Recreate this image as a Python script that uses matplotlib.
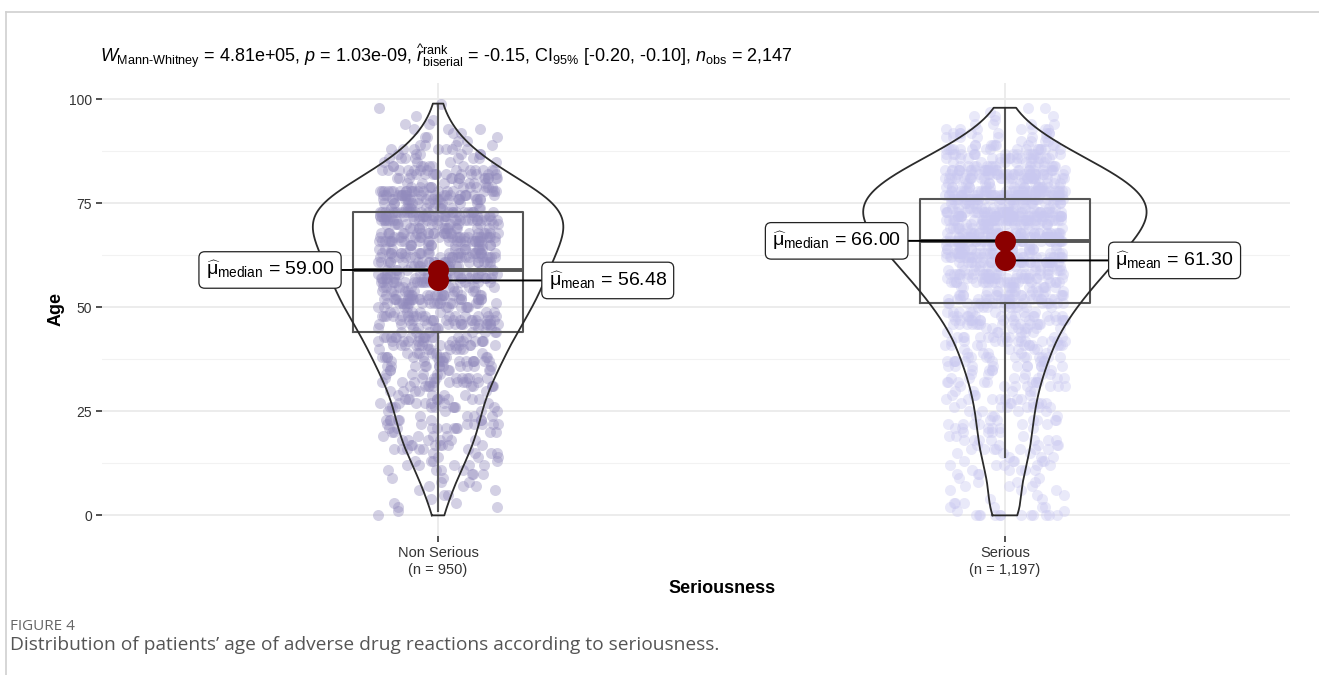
import numpy as np
import matplotlib
matplotlib.use("Agg")
import matplotlib.pyplot as plt
from matplotlib.lines import Line2D

plt.rcParams["font.family"] = ["Liberation Sans", "DejaVu Sans"]
plt.rcParams["mathtext.fontset"] = "custom"
plt.rcParams["mathtext.rm"] = "Liberation Sans"
plt.rcParams["mathtext.it"] = "Liberation Sans:italic"
plt.rcParams["mathtext.bf"] = "Liberation Sans:bold"

# ---- data -------------------------------------------------------------
groups = ["Non Serious", "Serious"]
tick_labels = ["Non Serious\n(n = 950)", "Serious\n(n = 1,197)"]
bin_starts = list(range(0, 100, 5))          # 5-year age bins
non_serious_counts = [7, 11, 19, 27, 31, 33, 40, 48, 55, 64,
                      75, 79, 87, 93, 101, 84, 52, 28, 12, 4]
serious_counts = [23, 13, 21, 25, 26, 29, 33, 41, 46, 59,
                  72, 90, 107, 124, 141, 136, 108, 66, 30, 7]
age_zero_counts = [1, 12]                     # part of the first bin
max_age = [99, 98]

box_q1 = [44, 51]
box_median = [59, 66]
box_q3 = [73, 76]
whisker_low = [1, 14]
whisker_high = [99, 98]

centre_median = [59.00, 66.00]
centre_mean = [56.48, 61.30]

subtitle = (r"$W_{\mathrm{Mann\text{-}Whitney}}$ = 4.81e+05, $p$ = 1.03e-09, "
            r"$\widehat{r}_{\mathrm{biserial}}^{\mathrm{rank}}$ = -0.15, "
            r"CI$_{95\%}$ [-0.20, -0.10], $n_{\mathrm{obs}}$ = 2,147")

point_colors = ["#928bbd", "#c9c8f0"]


def expand_ages(counts, zeros, top):
    parts = [np.zeros(zeros)]
    for start, c in zip(bin_starts, counts):
        lo = start
        if start == 0:
            c -= zeros
            lo = 1
        hi = min(start + 4, top)
        parts.append(np.round(np.linspace(lo, hi, c)))
    return np.concatenate(parts)


def kde_profile(vals, npts=512):
    n = len(vals)
    sd = vals.std(ddof=1)
    iqr = np.subtract(*np.percentile(vals, [75, 25]))
    bw = 0.9 * min(sd, iqr / 1.34) * n ** -0.2
    grid = np.linspace(vals.min(), vals.max(), npts)
    dens = np.exp(-0.5 * ((grid[:, None] - vals[None, :]) / bw) ** 2).sum(1)
    dens /= n * bw * np.sqrt(2 * np.pi)
    return grid, dens


ages = [expand_ages(non_serious_counts, age_zero_counts[0], max_age[0]),
        expand_ages(serious_counts, age_zero_counts[1], max_age[1])]

# ---- figure -----------------------------------------------------------
fig = plt.figure(figsize=(13.19, 6.75), dpi=100)
ax = fig.add_axes([0.0773, 0.206, 0.9007, 0.671])

ax.set_xlim(0.407, 2.503)
ax.set_ylim(-4.95, 103.95)

# grid
for y in [0, 25, 50, 75, 100]:
    ax.axhline(y, color="#ebebeb", lw=1.3, zorder=0)
for y in [12.5, 37.5, 62.5, 87.5]:
    ax.axhline(y, color="#f2f2f2", lw=0.8, zorder=0)
for x in [1, 2]:
    ax.axvline(x, color="#ebebeb", lw=1.3, zorder=0)

# jittered points (deterministic quadratic Weyl offsets)
jit_half = 0.106
for i, vals in enumerate(ages):
    n = len(vals)
    k = np.arange(n, dtype=float)
    frac = (k * k * 0.41421356237 + k * 0.7548776662 + 0.29 * i) % 1.0
    off = (frac - 0.5) * 2 * jit_half
    ax.scatter(i + 1 + off, vals, s=63, color=point_colors[i], alpha=0.4,
               linewidths=0, zorder=2)

# boxes
stats = []
for i in range(2):
    stats.append(dict(med=box_median[i], q1=box_q1[i], q3=box_q3[i],
                      whislo=whisker_low[i], whishi=whisker_high[i],
                      fliers=[]))
ax.bxp(stats, positions=[1, 2], widths=0.3, showcaps=False,
       showfliers=False, patch_artist=False,
       boxprops=dict(color="#555555", lw=1.5),
       whiskerprops=dict(color="#555555", lw=1.5),
       medianprops=dict(color="#555555", lw=2.8), manage_ticks=False,
       zorder=3)

# violins (area-scaled)
profiles = [kde_profile(v) for v in ages]
dmax = max(p[1].max() for p in profiles)
half_width = 0.25
for i, (grid, dens) in enumerate(profiles):
    w = dens / dmax * half_width
    xs = np.concatenate([i + 1 - w, (i + 1 + w)[::-1], [i + 1 - w[0]]])
    ys = np.concatenate([grid, grid[::-1], [grid[0]]])
    ax.plot(xs, ys, color="#2b2b2b", lw=1.3, zorder=4)

# centrality points and labels
box_style = dict(boxstyle="round,pad=0.35,rounding_size=0.3", fc="white",
                 ec="#222222", lw=0.9)
line_style = dict(arrowstyle="-", color="black", lw=1.4, shrinkA=0, shrinkB=0)
for i in range(2):
    x = i + 1
    ax.scatter([x, x], [centre_median[i], centre_mean[i]], s=230,
               color="#8b0000", zorder=6, linewidths=0)
    ax.annotate(r"$\widehat{\mathrm{\mu}}_{\mathrm{median}}$ = %.2f" % centre_median[i],
                xy=(x, centre_median[i]), xytext=(x - 0.183, centre_median[i]),
                ha="right", va="center", fontsize=14, bbox=box_style,
                arrowprops=line_style, zorder=5)
    ax.annotate(r"$\widehat{\mathrm{\mu}}_{\mathrm{mean}}$ = %.2f" % centre_mean[i],
                xy=(x, centre_mean[i]), xytext=(x + 0.195, centre_mean[i]),
                ha="left", va="center", fontsize=14, bbox=box_style,
                arrowprops=line_style, zorder=5)

# axes styling
for s in ax.spines.values():
    s.set_visible(False)
ax.set_yticks([0, 25, 50, 75, 100])
ax.set_xticks([1, 2])
ax.set_xticklabels(tick_labels)
ax.tick_params(axis="both", colors="#333333", labelsize=10.5, length=4,
               width=1.2, labelcolor="#333333")
ax.tick_params(axis="y", pad=3, labelsize=10)
ax.set_ylabel("Age", fontsize=13, fontweight="bold", labelpad=3)
ax.set_xlabel("Seriousness", fontsize=13, fontweight="bold")
ax.xaxis.set_label_coords(0.522, -0.098)

fig.text(0.0758, 0.917, subtitle, fontsize=13, ha="left", va="center")

# caption
fig.text(10 / 1319, 1 - 626 / 675, "FIGURE 4", fontsize=11, color="#666666",
         family=["Open Sans", "DejaVu Sans"], va="center")
fig.text(10 / 1319, 1 - 645 / 675,
         "Distribution of patients\u2019 age of adverse drug reactions according to seriousness.",
         fontsize=13.8, color="#555555", family=["Open Sans", "DejaVu Sans"],
         va="center")

# page frame
fig.add_artist(Line2D([6 / 1319, 1], [1 - 12 / 675, 1 - 12 / 675],
                      transform=fig.transFigure, color="#d0d0d0", lw=1.2))
fig.add_artist(Line2D([6 / 1319, 6 / 1319], [0, 1 - 12 / 675],
                      transform=fig.transFigure, color="#d0d0d0", lw=1.2))

fig.savefig("out.png", dpi=100)
